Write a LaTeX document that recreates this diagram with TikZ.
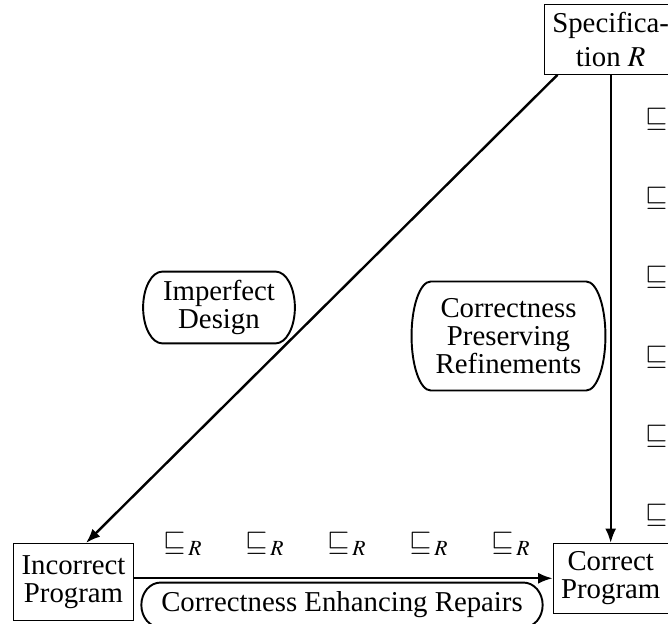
\documentclass[tikz,border=0pt]{standalone}
\usepackage{mathptmx}
\usepackage{fontspec}
\setmainfont{Liberation Serif}
\usetikzlibrary{calc,arrows.meta}

\begin{document}
\begin{tikzpicture}[x=0.41667pt, y=-0.41667pt,
  every node/.style={font=\fontsize{12pt}{11.8pt}\selectfont},
  prog/.style={draw, align=center},
  phase/.style={align=center, inner xsep=8.1pt},
  order/.style={anchor=base west},
  flow/.style={line width=1pt, -{Latex[length=6pt,width=4.6pt]}}]
\useasboundingbox (0,0) rectangle (668,624);
%%% programs %%%

      \node[prog] (spec) at (610.7,39.5) {Specifica-\\[2pt]tion $R$};
      \node[prog, anchor=north, minimum height=32pt] (incorrect) at (73.5,543) {Incorrect\\Program};
      \node[prog, anchor=north] (correct) at (610.7,543) {Correct\\Program};
      %% the three kinds of steps
      \node[phase] (design) at (219,307.5) {Imperfect\\Design};
      \node[phase, minimum width=80.4pt, minimum height=45pt] (preserve) at (508.5,336) {Correctness\\Preserving\\Refinements};
      \node[phase, minimum height=18.3pt] (repair) at (342,605) {Correctness Enhancing Repairs};
      \foreach \ph in {design,preserve,repair}
        \draw[thick] let \p1=(\ph.north west), \p2=(\ph.south east), \n1={(\y1-\y2)/2} in
          (\x1+8pt,\y1) -- (\x2-8pt,\y1)
          arc[start angle=90, end angle=-90, x radius=8pt, y radius=\n1]
          -- (\x1+8pt,\y2)
          arc[start angle=270, end angle=90, x radius=8pt, y radius=\n1] -- cycle;
      %% refinement order
      \foreach \x in {155,237,319,401,483}
        \node[order] (h\x) at (\x,551) {$\sqsubseteq_{\,R}$};
      \foreach \y [count=\i] in {126.6,205.8,285,364.2,443.4,522.6}
        \node[order] (v\i) at (637,\y) {$\sqsubseteq_{\,R}$};
      %%
      \draw[flow] (spec.south) -- (correct.north);
      \draw[flow] ([xshift=5.7pt]spec.south west) -- ([xshift=5.2pt]incorrect.north);
      \draw[flow] (incorrect.east |- correct.west) -- (correct.west);

\end{tikzpicture}
\end{document}
